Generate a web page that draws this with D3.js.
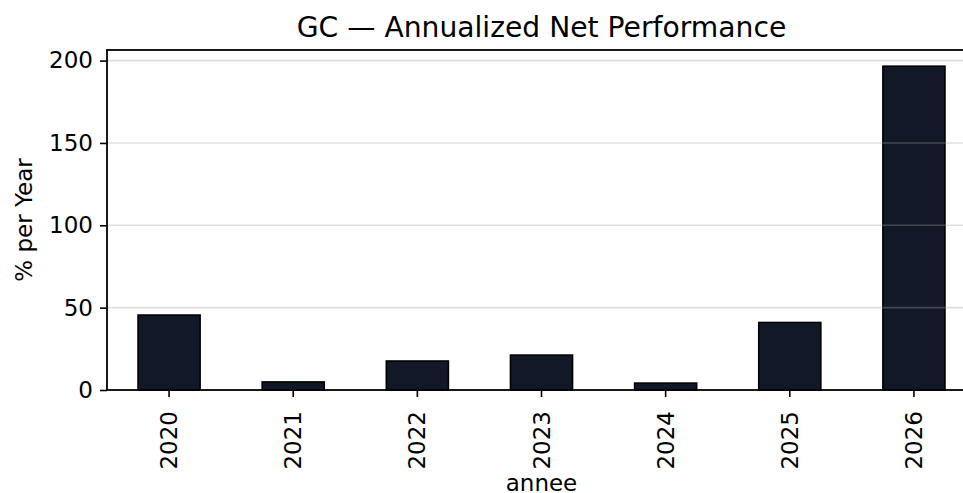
<!DOCTYPE html>
<html>
<head>
<meta charset="utf-8">
<script src="https://cdn.jsdelivr.net/npm/d3@7"></script>
<style>
  html, body { margin: 0; padding: 0; background: #fff; overflow: hidden; }
  svg { display: block; font-family: "DejaVu Sans", sans-serif; }
</style>
</head>
<body>
<svg id="chart" width="963" height="493"></svg>
<script>
"use strict";

const years = ['2020', '2021', '2022', '2023', '2024', '2025', '2026']
const perf = [45.5, 4.9, 17.6, 21.2, 4.2, 41.0, 196.6]
const y_ticks = [0, 50, 100, 150, 200]

const margin = { top: 50, left: 107, bottom: 390, right: 976 }

const svg = d3.select('#chart')

const x = d3.scaleBand()
   .domain(years)
   .range([margin.left, margin.right])
   .paddingInner(0.5)
   .paddingOuter(0.25)

const y = d3.scaleLinear()
   .domain([0, d3.max(perf) * 1.05])
   .range([margin.bottom, margin.top])

// bars
svg.append('g')
   .selectAll('rect')
   .data(years.map((d, i) => ({ year: d, value: perf[i] })))
   .enter().append('rect')
      .attr('x', d => x(d.year))
      .attr('y', d => y(d.value))
      .attr('width', x.bandwidth())
      .attr('height', d => y(0) - y(d.value))
      .attr('fill', '#111827')
      .attr('stroke', '#000')
      .attr('stroke-width', 1.6)

// grid on top of bars, faint
svg.append('g')
   .selectAll('line')
   .data(y_ticks.filter(d => d > 0))
   .enter().append('line')
      .attr('x1', margin.left)
      .attr('x2', margin.right)
      .attr('y1', d => y(d))
      .attr('y2', d => y(d))
      .attr('stroke', '#a0a0a0')
      .attr('stroke-opacity', 0.35)
      .attr('stroke-width', 1.6)

// spines
svg.append('rect')
   .attr('x', margin.left)
   .attr('y', margin.top)
   .attr('width', margin.right - margin.left)
   .attr('height', margin.bottom - margin.top)
   .attr('stroke', '#000')
   .attr('stroke-width', 1.8)
   .attr('fill', 'none')

// y axis
const y_axis = svg.append('g')
   .attr('transform', `translate(${margin.left},0)`)
   .call(d3.axisLeft(y).tickValues(y_ticks).tickSize(7).tickPadding(7))
y_axis.select('.domain').remove()
y_axis.selectAll('line').attr('stroke', '#000').attr('stroke-width', 1.6)
y_axis.selectAll('text')
   .attr('font-size', 23)
   .attr('font-family', 'DejaVu Sans')
   .attr('fill', '#000')

// x axis
const x_axis = svg.append('g')
   .attr('transform', `translate(0,${margin.bottom})`)
   .call(d3.axisBottom(x).tickSize(7).tickPadding(0))
x_axis.select('.domain').remove()
x_axis.selectAll('line').attr('stroke', '#000').attr('stroke-width', 1.6)
x_axis.selectAll('text')
   .attr('font-size', 23)
   .attr('font-family', 'DejaVu Sans')
   .attr('fill', '#000')
   .attr('text-anchor', 'end')
   .attr('dy', '0.35em')
   .attr('transform', 'translate(0,21) rotate(-90)')
   .attr('x', 0)
   .attr('y', 0)

// labels
svg.append('text')
   .attr('x', (margin.left + margin.right) / 2)
   .attr('y', 37)
   .attr('text-anchor', 'middle')
   .attr('font-size', 28.2)
   .text('GC — Annualized Net Performance')

svg.append('text')
   .attr('transform', `translate(32,${(margin.top + margin.bottom) / 2}) rotate(-90)`)
   .attr('text-anchor', 'middle')
   .attr('font-size', 23)
   .text('% per Year')

svg.append('text')
   .attr('x', (margin.left + margin.right) / 2)
   .attr('y', 491)
   .attr('text-anchor', 'middle')
   .attr('font-size', 23)
   .text('annee')
</script>
</body>
</html>
